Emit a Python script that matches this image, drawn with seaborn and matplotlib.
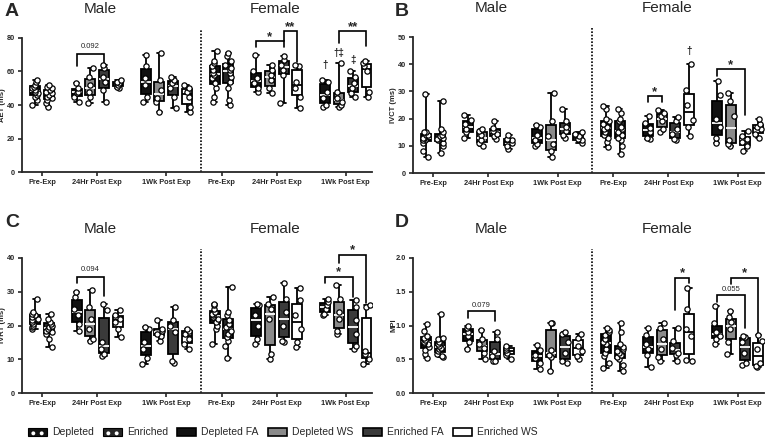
import numpy as np
import pandas as pd
import matplotlib.pyplot as plt
import matplotlib.transforms as mtransforms
from matplotlib.patches import Patch
from matplotlib.legend_handler import HandlerTuple
import seaborn as sns

sns.set_style("ticks")
plt.rcParams["font.family"] = ["Liberation Sans", "DejaVu Sans"]
plt.rcParams["hatch.linewidth"] = 1.6
np.random.seed(7)

# Box order inside each sex: Pre-Exp (2 boxes), 24Hr (4 boxes), 1Wk (4 boxes)
BOX_LABELS = ["Depleted", "Enriched",
              "Depleted FA", "Depleted WS", "Enriched FA", "Enriched WS",
              "Depleted FA", "Depleted WS", "Enriched FA", "Enriched WS"]
HUE_ORDER = ["Depleted", "Enriched", "Depleted FA", "Depleted WS", "Enriched FA", "Enriched WS"]
TIMEPOINTS = ["Pre-Exp", "24Hr Post Exp", "1Wk Post Exp"]
PALETTE = {"Depleted": "#111111", "Enriched": "#262626", "Depleted FA": "#111111",
           "Depleted WS": "#8a8a8a", "Enriched FA": "#3a3a3a", "Enriched WS": "#ffffff"}

# ---- A: AET (ms) ----
AET_MALE = [
    [40, 43, 45, 46, 47, 48, 49, 50, 51, 52, 54, 55],
    [39, 41, 43, 44, 45, 46, 47, 48, 49, 50, 51, 52],
    [42, 45, 47, 48, 50, 53],
    [41, 45, 48, 52, 57, 62],
    [42, 49, 54, 57, 62, 64],
    [50, 51, 52, 53, 54, 55],
    [42, 45, 52, 56, 63, 70],
    [36, 42, 44, 49, 55, 71],
    [38, 45, 50, 53, 55, 57],
    [36, 39, 45, 48, 50, 52],
]
AET_FEMALE = [
    [42, 45, 50, 53, 56, 58, 59, 61, 63, 65, 66, 72],
    [40, 43, 50, 54, 57, 59, 61, 62, 64, 66, 69, 71],
    [48, 50, 53, 56, 60, 70],
    [47, 50, 55, 58, 61, 64],
    [41, 58, 61, 64, 67, 69],
    [38, 45, 50, 54, 63, 64],
    [39, 40, 44, 48, 54, 55],
    [39, 40, 42, 44, 48, 65],
    [45, 47, 50, 53, 57, 60],
    [45, 48, 60, 63, 65, 66],
]

# ---- B: IVCT (ms) ----
IVCT_MALE = [
    [6, 8, 11, 12, 12, 13, 13, 14, 14, 15, 15, 29],
    [7.5, 10, 11, 12, 12.5, 13, 13, 13.5, 14, 15, 16, 26.5],
    [13, 15, 16, 18, 19.5, 21.5],
    [10, 11, 12, 14, 15.5, 16],
    [12.5, 13.5, 14.5, 15.5, 16.5, 19],
    [9, 10, 11, 12, 12.5, 14],
    [10, 10.5, 12, 14, 17, 17.5],
    [6, 8, 10.5, 13.5, 19, 29.5],
    [13, 14, 15.5, 17, 19, 23.5],
    [11, 12, 12.5, 13.5, 14.5, 15],
]
IVCT_FEMALE = [
    [9.5, 11.5, 13, 14, 15, 16, 17, 18, 19, 20, 23.5, 24.5],
    [7, 10, 12, 13, 14, 15, 16, 17, 19, 20, 22, 23.5],
    [12.5, 13, 15, 16.5, 18.5, 21],
    [15, 16, 19, 21, 22, 23],
    [12, 12.5, 14.5, 16, 19, 20.5],
    [13.5, 17, 19.5, 25, 30.5, 40],
    [11, 13, 17, 20, 28.5, 34],
    [10, 10.5, 12, 21, 26.5, 29.5],
    [8, 10, 11.5, 12.5, 13.5, 15.5],
    [13, 14.5, 16, 17, 18, 20],
]

# ---- C: IVRT (ms) ----
IVRT_MALE = [
    [19, 19.5, 20, 20.5, 21, 21.5, 22, 22.5, 23, 23.5, 24, 28],
    [13.5, 16, 17.5, 18, 18.5, 19, 19.5, 20, 20.5, 21, 22, 23.5],
    [18.5, 20.5, 23, 25, 28.5, 30],
    [15.5, 16, 19, 22, 25.5, 30.5],
    [11, 11.5, 13, 15, 24.5, 26.5],
    [16.5, 19, 21, 22, 23, 24.5],
    [8.5, 10.5, 13, 15, 19, 19.5],
    [15.5, 17, 17.5, 18.5, 19, 21.5],
    [9, 9.5, 18, 20, 21.5, 25.5],
    [13, 14.5, 16, 17.5, 18.5, 19],
]
IVRT_FEMALE = [
    [14.5, 19, 20, 21, 22, 22.5, 23, 23.5, 24, 25, 26, 26.5],
    [10.5, 14, 15.5, 16.5, 17.5, 18.5, 19.5, 20.5, 21.5, 23, 24, 31.5],
    [14.5, 16, 20, 23, 26, 26.5],
    [10, 11.5, 22, 25, 26.5, 28.5],
    [15, 15.5, 20, 24, 28, 32.5],
    [13.5, 15, 19, 23, 27.5, 31],
    [23, 23.5, 25, 26, 27, 28],
    [17.5, 18.5, 22, 24, 28, 32],
    [13, 14, 17.5, 21.5, 25.5, 27.5],
    [8.5, 10, 11.5, 12.5, 25.5, 26],
]

# ---- D: MPI ----
MPI_MALE = [
    [0.52, 0.58, 0.63, 0.68, 0.72, 0.74, 0.76, 0.79, 0.82, 0.85, 0.92, 1.02],
    [0.53, 0.55, 0.58, 0.62, 0.65, 0.67, 0.70, 0.72, 0.75, 0.80, 0.81, 1.17],
    [0.65, 0.75, 0.85, 0.90, 0.97, 1.00],
    [0.50, 0.60, 0.67, 0.73, 0.80, 0.93],
    [0.47, 0.48, 0.55, 0.62, 0.80, 0.90],
    [0.50, 0.57, 0.60, 0.63, 0.67, 0.70],
    [0.36, 0.45, 0.52, 0.57, 0.63, 0.71],
    [0.33, 0.53, 0.57, 0.63, 1.03, 1.04],
    [0.45, 0.48, 0.60, 0.75, 0.88, 0.90],
    [0.50, 0.55, 0.62, 0.70, 0.82, 0.87],
]
MPI_FEMALE = [
    [0.37, 0.45, 0.55, 0.60, 0.65, 0.72, 0.76, 0.80, 0.86, 0.90, 0.94, 0.96],
    [0.33, 0.42, 0.50, 0.53, 0.56, 0.60, 0.62, 0.65, 0.68, 0.72, 0.90, 1.03],
    [0.39, 0.57, 0.65, 0.72, 0.86, 0.97],
    [0.47, 0.53, 0.65, 0.80, 0.97, 1.04],
    [0.48, 0.57, 0.60, 0.66, 0.77, 0.97],
    [0.47, 0.49, 0.85, 0.95, 1.25, 1.55],
    [0.73, 0.80, 0.85, 0.90, 1.03, 1.29],
    [0.58, 0.75, 0.95, 1.05, 1.12, 1.22],
    [0.41, 0.45, 0.60, 0.75, 0.83, 0.85],
    [0.38, 0.40, 0.45, 0.65, 0.77, 0.86],
]

# significance brackets: (box from, box to, top, left leg end, right leg end, text, text y)
BRACKETS_A = [(3, 5, 70.4, 63.3, 63.3, "0.092", 75),
              (16, 18, 78.4, 74.8, 74.8, "*", 80.5),
              (18, 19, 84.4, 78.4, 65.9, "**", 86.5),
              (22, 24, 84.4, 77.0, 75.4, "**", 86.5)]
MARKS_A = [("\u2020", 21, 64), ("\u2020\u2021", 22, 71), ("\u2021", 23, 67)]
BRACKETS_B = [(16, 17, 28.3, 26.2, 26.2, "*", 29.8),
              (21, 23, 38.2, 35.7, 21.3, "*", 39.7)]
MARKS_B = [("\u2020", 19, 45)]
BRACKETS_C = [(3, 5, 34.5, 32.7, 28.8, "0.094", 36.6),
              (21, 23, 34.5, 32.7, 28.4, "*", 35.8),
              (22, 24, 40.9, 38.5, 26.7, "*", 42.2)]
MARKS_C = []
BRACKETS_D = [(3, 5, 1.215, 1.11, 1.06, "0.079", 1.30),
              (18, 19, 1.70, 1.23, 1.63, "*", 1.77),
              (21, 23, 1.45, 1.35, 0.96, "0.055", 1.54),
              (22, 24, 1.70, 1.61, 0.76, "*", 1.77)]
MARKS_D = []

# slot of each box along x (gap of one empty slot between time points)
BOX_SLOTS = []
slot = 0
for n in [2, 4, 4]:
    BOX_SLOTS += list(range(slot, slot + n))
    slot += n + 1
SEX_OFFSET = slot  # 13
GROUP_CENTERS = []
for off in [0, SEX_OFFSET]:
    GROUP_CENTERS += [off + 0.5, off + 4.5, off + 9.5]


def draw_panel(ax, male, female, ylabel, ymax, ystep, brackets, marks, fmt):
    rows = []
    for s, boxes in enumerate([male, female]):
        for k, vals in enumerate(boxes):
            for v in vals:
                rows.append({"pos": BOX_SLOTS[k] + SEX_OFFSET * s,
                             "cond": BOX_LABELS[k], "value": v})
    df = pd.DataFrame(rows)

    sns.boxplot(data=df, x="pos", y="value", hue="cond", hue_order=HUE_ORDER,
                palette=PALETTE, native_scale=True, dodge=False, width=0.72,
                whis=(0, 100), saturation=1, linecolor="black", linewidth=1.3,
                showfliers=False, legend=False, ax=ax)
    for cont in ax.containers:
        for box, med in zip(cont.boxes, cont.medians):
            r, g, b, _ = box.get_facecolor()
            med.set_color("white" if r + g + b < 2.5 else "black")
    sns.stripplot(data=df, x="pos", y="value", native_scale=True, jitter=0.25,
                  color="white", edgecolor="black", linewidth=0.9, size=3.8,
                  ax=ax, zorder=4)

    ax.set_xlim(-0.95, 24.4)
    ax.set_ylim(0, ymax)
    ax.set_yticks(np.arange(0, ymax + ystep / 2, ystep))
    ax.set_yticklabels([fmt % t for t in np.arange(0, ymax + ystep / 2, ystep)])
    ax.set_xticks(GROUP_CENTERS)
    ax.set_xticklabels(TIMEPOINTS * 2)
    ax.set_xlabel("")
    ax.set_ylabel(ylabel, fontsize=5.5, fontweight="bold")
    ax.yaxis.set_label_coords(-0.045, 0.5)
    for lab in ax.get_xticklabels() + ax.get_yticklabels():
        lab.set_fontweight("bold")
        lab.set_fontsize(5.3)
    ax.tick_params(width=1.2, length=3, pad=2)
    sns.despine(ax=ax)
    for sp in ["left", "bottom"]:
        ax.spines[sp].set_linewidth(1.3)

    # dotted separator between sexes
    ax.plot([SEX_OFFSET - 1, SEX_OFFSET - 1], [0, ymax * 1.07], ls=(0, (1, 1)),
            color="black", lw=1.2, clip_on=False)

    for x1, x2, top, y1, y2, txt, ty in brackets:
        ax.plot([x1, x1, x2, x2], [y1, top, top, y2], color="black", lw=1.2,
                clip_on=False, solid_joinstyle="miter")
        if txt.startswith("*"):
            ax.text((x1 + x2) / 2, ty, txt, ha="center", va="center",
                    fontsize=9.5, fontweight="bold")
        else:
            ax.text((x1 + x2) / 2, ty, txt, ha="center", va="center", fontsize=5.5)
    for txt, x, y in marks:
        ax.text(x, y, txt, ha="center", va="center", fontsize=7, fontweight="bold")

    trans = mtransforms.blended_transform_factory(ax.transData, ax.transAxes)
    ax.text(4.7, 1.215, "Male", transform=trans, ha="center", va="center", fontsize=11)
    ax.text(17.4, 1.215, "Female", transform=trans, ha="center", va="center", fontsize=11)


fig = plt.figure(figsize=(7.68, 4.44), dpi=100)
axA = fig.add_axes([22 / 768, 1 - 172 / 444, 350 / 768, 134 / 444])
axB = fig.add_axes([413 / 768, 1 - 173 / 444, 351 / 768, 136 / 444])
axC = fig.add_axes([22 / 768, 1 - 393 / 444, 350 / 768, 135 / 444])
axD = fig.add_axes([413 / 768, 1 - 393 / 444, 351 / 768, 135 / 444])

draw_panel(axA, AET_MALE, AET_FEMALE, "AET (ms)", 80, 20, BRACKETS_A, MARKS_A, "%d")
draw_panel(axB, IVCT_MALE, IVCT_FEMALE, "IVCT (ms)", 50, 10, BRACKETS_B, MARKS_B, "%d")
draw_panel(axC, IVRT_MALE, IVRT_FEMALE, "IVRT (ms)", 40, 10, BRACKETS_C, MARKS_C, "%d")
draw_panel(axD, MPI_MALE, MPI_FEMALE, "MPI", 2.0, 0.5, BRACKETS_D, MARKS_D, "%.1f")

for letter, x, y in [("A", 5, 11), ("B", 395, 11), ("C", 5, 222), ("D", 395, 222)]:
    fig.text(x / 768, 1 - y / 444, letter, fontsize=14, fontweight="bold",
             ha="left", va="center")


# legend: Pre-Exp groups drawn as black boxes with white dots
def dotted(fc):
    return (Patch(facecolor=fc, edgecolor="black", lw=0.8),
            Patch(facecolor="none", edgecolor="white", hatch="..", lw=0))


handles = [dotted(PALETTE["Depleted"]), dotted(PALETTE["Enriched"])]
handles += [Patch(facecolor=PALETTE[c], edgecolor="black", lw=1.2) for c in HUE_ORDER[2:]]
fig.legend(handles, HUE_ORDER, handler_map={tuple: HandlerTuple(ndivide=1, pad=0)},
           loc="center", bbox_to_anchor=(0.368, 0.026), ncol=6, frameon=False,
           fontsize=7.5, handlelength=1.8, handleheight=0.8, columnspacing=0.9,
           handletextpad=0.5)

fig.savefig("out.png", dpi=100, facecolor="white")
